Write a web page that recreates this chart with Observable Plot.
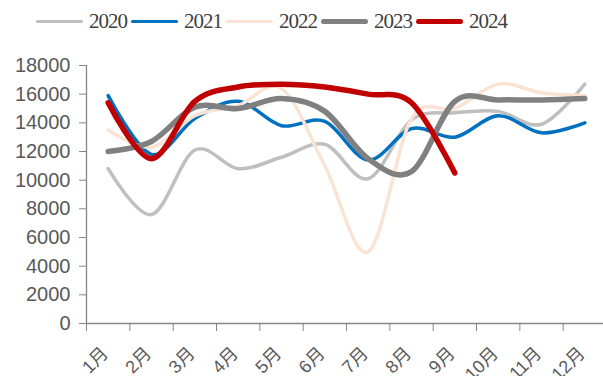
<!DOCTYPE html>
<html>
<head>
<meta charset="utf-8">
<script src="https://cdn.jsdelivr.net/npm/d3@7"></script>
<script src="https://cdn.jsdelivr.net/npm/@observablehq/plot@0.6"></script>
<style>
  html, body { margin: 0; padding: 0; background: #fff; }
  #wrap { width: 603px; height: 376px; overflow: hidden; position: relative; }
  #legend { height: 40px; box-sizing: border-box; padding-top: 3px; padding-left: 36px;
    display: flex; align-items: center; font-family: "Liberation Serif", "Times New Roman", serif;
    font-size: 21px; letter-spacing: -1px; color: #404040; }
  .item { display: flex; align-items: center; margin-right: 4px; }
  .swatch { width: 47px; border-radius: 3px; margin-right: 6px; }
</style>
</head>
<body>
<div id="wrap">
  <div id="legend"></div>
  <div id="chart"></div>
</div>
<script>
const months = [1, 2, 3, 4, 5, 6, 7, 8, 9, 10, 11, 12];
const monthLabels = ["1月", "2月", "3月", "4月", "5月", "6月", "7月", "8月", "9月", "10月", "11月", "12月"];
const years = ["2020", "2021", "2022", "2023", "2024"];
const s2020 = [10800, 7600, 12100, 10800, 11600, 12500, 10100, 14200, 14700, 14800, 13900, 16700];
const s2021 = [15900, 11800, 14300, 15500, 13800, 14100, 11400, 13600, 13000, 14500, 13300, 14000];
const s2022 = [13500, 12300, 14500, 15200, 16400, 11000, 5000, 14300, 15000, 16700, 16100, 15900];
const s2023 = [12000, 12700, 15100, 15000, 15700, 14800, 11500, 10600, 15500, 15600, 15600, 15700];
const s2024 = [15400, 11500, 15500, 16500, 16700, 16500, 16000, 15400, 10500];
const yTicks = [0, 2000, 4000, 6000, 8000, 10000, 12000, 14000, 16000, 18000];

const colors = ["#bfbfbf", "#0070c0", "#fbe3d4", "#808080", "#c00000"];
const widths = [3.5, 3.5, 3.5, 5.5, 5.5];
const series = [s2020, s2021, s2022, s2023, s2024];

// legend
const legend = document.getElementById("legend");
years.forEach((yr, k) => {
  const it = document.createElement("div");
  it.className = "item";
  const sw = document.createElement("div");
  sw.className = "swatch";
  sw.style.height = widths[k] + "px";
  sw.style.background = colors[k];
  const tx = document.createElement("span");
  tx.textContent = yr;
  it.appendChild(sw); it.appendChild(tx);
  legend.appendChild(it);
});

const data = years.flatMap((yr, k) => series[k].map((v, i) => ({year: yr, month: months[i], value: v})));
const xDomain = [0.5, 12.5];
const boundaries = months.map(m => m - 0.5);
const axisColor = "#868686";
const labelColor = "#595959";

const chart = Plot.plot({
  width: 603,
  height: 336,
  marginTop: 25,
  marginBottom: 53,
  marginLeft: 86,
  marginRight: 0,
  style: {fontFamily: "'Liberation Sans', Arial, 'Noto Sans CJK SC', sans-serif", background: "#fff", overflow: "visible"},
  x: {domain: xDomain, range: [86, 606], label: null},
  y: {domain: [0, 18000], label: null},
  marks: [
    Plot.ruleY([0], {stroke: axisColor, strokeWidth: 1.3}),
    Plot.ruleX([xDomain[0]], {stroke: axisColor, strokeWidth: 1.3}),
    Plot.axisY({ticks: yTicks, tickSize: 7, tickPadding: 9, fontSize: 20, stroke: axisColor, fill: labelColor, tickFormat: d => String(d), label: null}),
    Plot.axisX({ticks: boundaries, tickSize: 8, tickFormat: () => "", stroke: axisColor, label: null}),
    Plot.axisX({ticks: months, tickSize: 0, tickPadding: 27, tickRotate: -45, fontSize: 18, dx: -3, fill: labelColor, tickFormat: m => monthLabels[m - 1], label: null}),
    ...years.map((yr, k) => Plot.line(data.filter(d => d.year === yr), {
      x: "month", y: "value", stroke: colors[k], strokeWidth: widths[k],
      curve: "cardinal", strokeLinecap: "round", strokeLinejoin: "round"
    }))
  ]
});
document.getElementById("chart").appendChild(chart);
</script>
</body>
</html>
